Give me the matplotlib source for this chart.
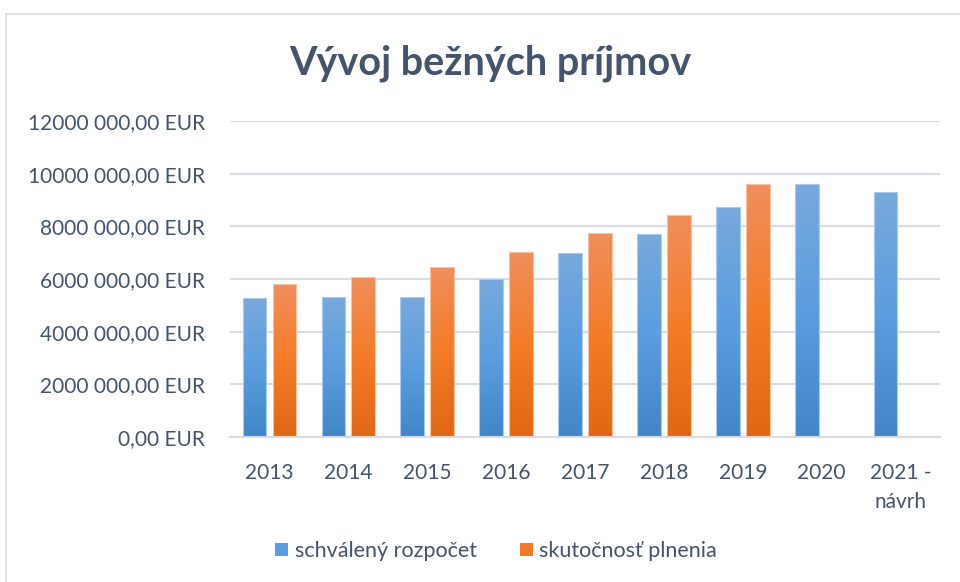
import numpy as np
import matplotlib.pyplot as plt
from matplotlib.colors import LinearSegmentedColormap
from matplotlib.patches import Rectangle, Patch

plt.rcParams['font.family'] = ['Lato', 'DejaVu Sans']

years = ['2013', '2014', '2015', '2016', '2017', '2018', '2019', '2020', '2021 -\nnávrh']
schvaleny = [5270000, 5300000, 5320000, 6000000, 6990000, 7710000, 8750000, 9600000, 9290000]
skutocnost = [5810000, 6080000, 6460000, 7030000, 7750000, 8430000, 9600000, None, None]

text_col = '#44546a'
blue_cmap = LinearSegmentedColormap.from_list('b', ['#4286c8', '#5b9ddf', '#78a9dc'])
orange_cmap = LinearSegmentedColormap.from_list('o', ['#e06814', '#f47c28', '#f08e5c'])


def eur(v, pos=None):
    if v == 0:
        return '0,00 EUR'
    return f'{int(v // 1000)} {int(v % 1000):03d},00 EUR'


fig = plt.figure(figsize=(9.6, 5.82), dpi=100)
fig.patches.append(Rectangle((6 / 960, -0.1), 2, 1.1 - 14 / 582, transform=fig.transFigure,
                             fill=False, edgecolor='#d9dde3', linewidth=1.2))
ax = fig.add_axes([230 / 960, 1 - 437 / 582, 710 / 960, 316 / 582])

x = np.arange(len(years))
w = 0.30
off = 0.19


def gradient_bar(xc, h, cmap, edge):
    if h is None:
        return
    bar = ax.bar(xc, h, w, color='none', edgecolor=edge, linewidth=0.8, zorder=3)[0]
    grad = np.linspace(0, 1, 256).reshape(-1, 1)
    im = ax.imshow(grad, cmap=cmap, origin='lower', aspect='auto',
                   extent=[xc - w / 2, xc + w / 2, 0, h], zorder=2)
    im.set_clip_path(bar)


for i in range(len(years)):
    gradient_bar(x[i] - off, schvaleny[i], blue_cmap, '#a9cbee')
    gradient_bar(x[i] + off, skutocnost[i], orange_cmap, '#f9c3a3')

ax.set_xlim(-0.5, len(years) - 0.5)
ax.set_ylim(0, 12000000)
ax.set_yticks(np.arange(0, 12000001, 2000000))
ax.yaxis.set_major_formatter(plt.FuncFormatter(eur))
ax.set_xticks(x)
ax.set_xticklabels(years, linespacing=1.55)
ax.tick_params(axis='both', length=0, colors=text_col, labelsize=15)
ax.tick_params(axis='y', pad=18)
ax.tick_params(axis='x', pad=19)
for lab in ax.get_yticklabels():
    lab.set_horizontalalignment('right')
ax.grid(axis='y', color='#d9dde3', linewidth=1.5, zorder=0)
ax.set_axisbelow(True)
for s in ['top', 'right', 'left']:
    ax.spines[s].set_visible(False)
ax.spines['bottom'].set_color('#d9dde3')
ax.spines['bottom'].set_linewidth(1.5)

fig.text(490 / 960, 1 - 63 / 582, 'Vývoj bežných príjmov', ha='center', va='center',
         fontsize=28.5, fontweight='bold', color=text_col)

handles = [Patch(facecolor='#5b9ddf', edgecolor='none'), Patch(facecolor='#f47c28', edgecolor='none')]
fig.legend(handles, ['schválený rozpočet', 'skutočnosť plnenia'], loc='center',
           bbox_to_anchor=(496 / 960, 1 - 551 / 582), ncol=2, frameon=False,
           fontsize=15.5, labelcolor=text_col, handlelength=0.6, handleheight=0.6,
           handletextpad=0.3, columnspacing=2.0)

fig.savefig('out.png', dpi=100)
